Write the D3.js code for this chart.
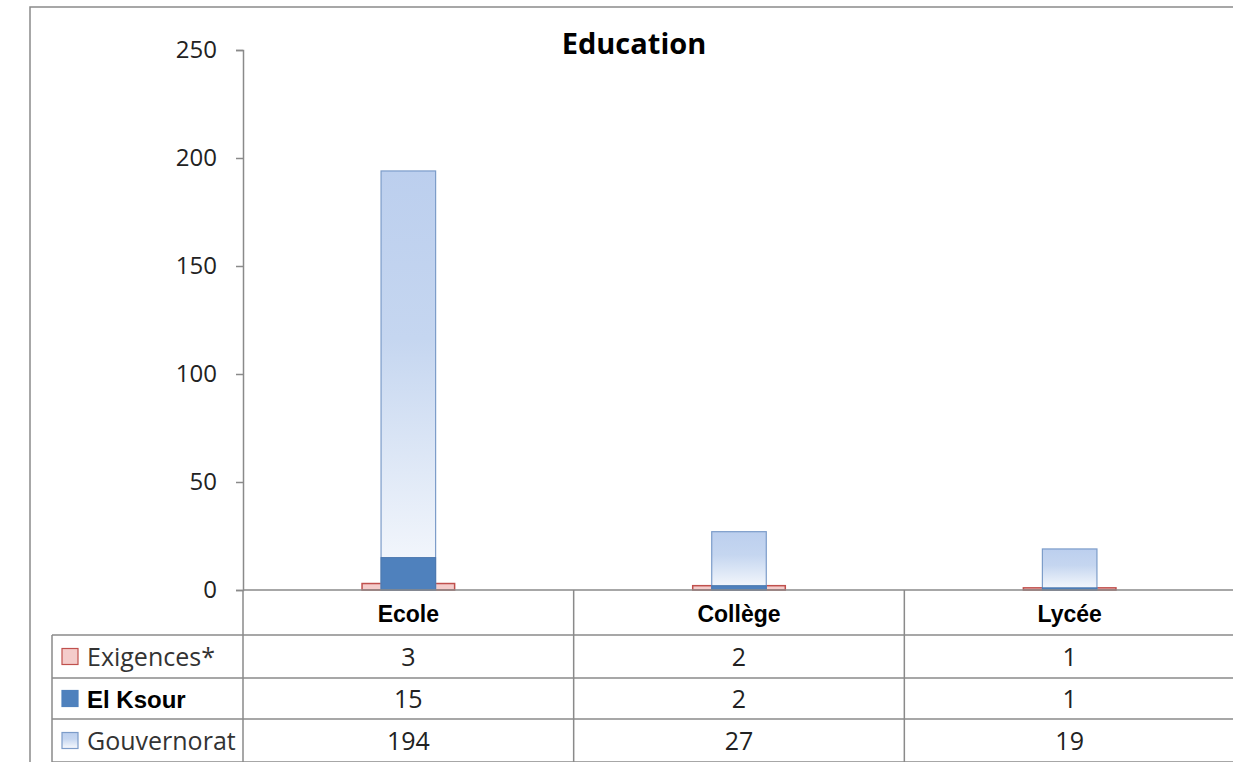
<!DOCTYPE html>
<html>
<head>
<meta charset="utf-8">
<script src="https://cdn.jsdelivr.net/npm/d3@7"></script>
<style>
  body { margin: 0; background: #fff; }
  svg { display: block; }
</style>
</head>
<body>
<div id="chart"></div>
<script>
const categories = ["Ecole", "Collège", "Lycée"];
const seriesNames = ["Exigences*", "El Ksour", "Gouvernorat"];
const exigences = [3, 2, 1];
const elKsour = [15, 2, 1];
const gouvernorat = [194, 27, 19];
const yTicks = [0, 50, 100, 150, 200, 250];

const W = 1233, H = 762;
const dims = { left: 243, right: 1235, top: 50, bottom: 590 };
const rowLines = [590, 635, 678, 719, 762];

const svg = d3.select("#chart").append("svg")
  .attr("width", W).attr("height", H);

const defs = svg.append("defs");
const grad = defs.append("linearGradient")
  .attr("id", "govGrad")
  .attr("x1", 0).attr("y1", 0).attr("x2", 0).attr("y2", 1);
grad.append("stop").attr("offset", "0%").attr("stop-color", "#bccfee");
grad.append("stop").attr("offset", "40%").attr("stop-color", "#c5d6f0");
grad.append("stop").attr("offset", "100%").attr("stop-color", "#f8fafd");

// outer frame
svg.append("path")
  .attr("d", `M30,${H} L30,7 L${W},7`)
  .attr("fill", "none").attr("stroke", "#8a8a8a").attr("stroke-width", 1.5);

const x = d3.scaleBand().domain(categories).range([dims.left, dims.right]);
const y = d3.scaleLinear().domain([0, 250]).range([dims.bottom, dims.top]);

// y axis
const yAxis = svg.append("g")
  .attr("transform", `translate(${dims.left},0)`)
  .call(d3.axisLeft(y).tickValues(yTicks).tickSize(7).tickPadding(19));
yAxis.select(".domain").attr("stroke", "#8a8a8a").attr("stroke-width", 1.5);
yAxis.selectAll(".tick line").attr("stroke", "#8a8a8a").attr("stroke-width", 1.5);
yAxis.selectAll("text")
  .attr("font-family", "'Open Sans', sans-serif")
  .attr("font-size", 24).attr("fill", "#222");

// title
svg.append("text")
  .attr("x", 634).attr("y", 54)
  .attr("text-anchor", "middle")
  .attr("font-family", "'Open Sans', sans-serif")
  .attr("font-weight", "bold").attr("font-size", 29)
  .text("Education");

// bars
const wideW = x.bandwidth() * 0.28;
const narrowW = x.bandwidth() * 0.165;

svg.append("g").selectAll("rect")
  .data(categories)
  .join("rect")
    .attr("x", d => x(d) + x.bandwidth() / 2 - wideW / 2)
    .attr("width", wideW)
    .attr("y", (d, i) => y(exigences[i]))
    .attr("height", (d, i) => y(0) - y(exigences[i]))
    .attr("fill", "#f4cccb").attr("stroke", "#c0504d").attr("stroke-width", 1.5);

svg.append("g").selectAll("rect")
  .data(categories)
  .join("rect")
    .attr("x", d => x(d) + x.bandwidth() / 2 - narrowW / 2)
    .attr("width", narrowW)
    .attr("y", (d, i) => y(gouvernorat[i]))
    .attr("height", (d, i) => y(0) - y(gouvernorat[i]))
    .attr("fill", "url(#govGrad)").attr("stroke", "#7c9cc9").attr("stroke-width", 1.2);

svg.append("g").selectAll("rect")
  .data(categories)
  .join("rect")
    .attr("x", d => x(d) + x.bandwidth() / 2 - narrowW / 2)
    .attr("width", narrowW)
    .attr("y", (d, i) => y(elKsour[i]))
    .attr("height", (d, i) => y(0) - y(elKsour[i]))
    .attr("fill", "#4f81bd").attr("stroke", "#4a77ae").attr("stroke-width", 1);

// data table
const grid = svg.append("g").attr("stroke", "#8a8a8a").attr("stroke-width", 1.5);
rowLines.forEach((ry, i) => {
  grid.append("line")
    .attr("x1", i === 0 ? dims.left : 52).attr("x2", W)
    .attr("y1", ry).attr("y2", ry);
});
grid.append("line").attr("x1", 52).attr("x2", 52).attr("y1", rowLines[1]).attr("y2", H);
[dims.left, ...categories.slice(1).map(c => x(c))].forEach(vx => {
  grid.append("line").attr("x1", vx).attr("x2", vx).attr("y1", dims.bottom).attr("y2", H);
});

svg.append("g").selectAll("text")
  .data(categories)
  .join("text")
    .attr("x", d => x(d) + x.bandwidth() / 2)
    .attr("y", 622)
    .attr("text-anchor", "middle")
    .attr("font-family", "'Liberation Sans', Arial, sans-serif")
    .attr("font-weight", "bold").attr("font-size", 23)
    .text(d => d);

const rows = [exigences, elKsour, gouvernorat];
const swatch = [
  { fill: "#f4cccb", stroke: "#c0504d" },
  { fill: "#4f81bd", stroke: "#4f81bd" },
  { fill: "url(#govGrad)", stroke: "#7c9cc9" }
];
rows.forEach((vals, r) => {
  const cy = (rowLines[r + 1] + rowLines[r + 2]) / 2;
  svg.append("rect")
    .attr("x", 62).attr("y", cy - 8).attr("width", 16).attr("height", 16)
    .attr("fill", swatch[r].fill).attr("stroke", swatch[r].stroke).attr("stroke-width", 1.2);
  svg.append("text")
    .attr("x", 87).attr("y", cy + 9)
    .attr("font-family", r === 1 ? "'Liberation Sans', Arial, sans-serif" : "'Open Sans', sans-serif")
    .attr("font-weight", r === 1 ? "bold" : "normal")
    .attr("font-size", r === 1 ? 24 : 25)
    .attr("fill", r === 1 ? "#000" : "#333")
    .text(seriesNames[r]);
  svg.append("g").selectAll("text")
    .data(categories)
    .join("text")
      .attr("x", d => x(d) + x.bandwidth() / 2)
      .attr("y", cy + 9)
      .attr("text-anchor", "middle")
      .attr("font-family", "'Open Sans', sans-serif")
      .attr("font-size", 25).attr("fill", "#222")
      .text((d, i) => vals[i]);
});
</script>
</body>
</html>
